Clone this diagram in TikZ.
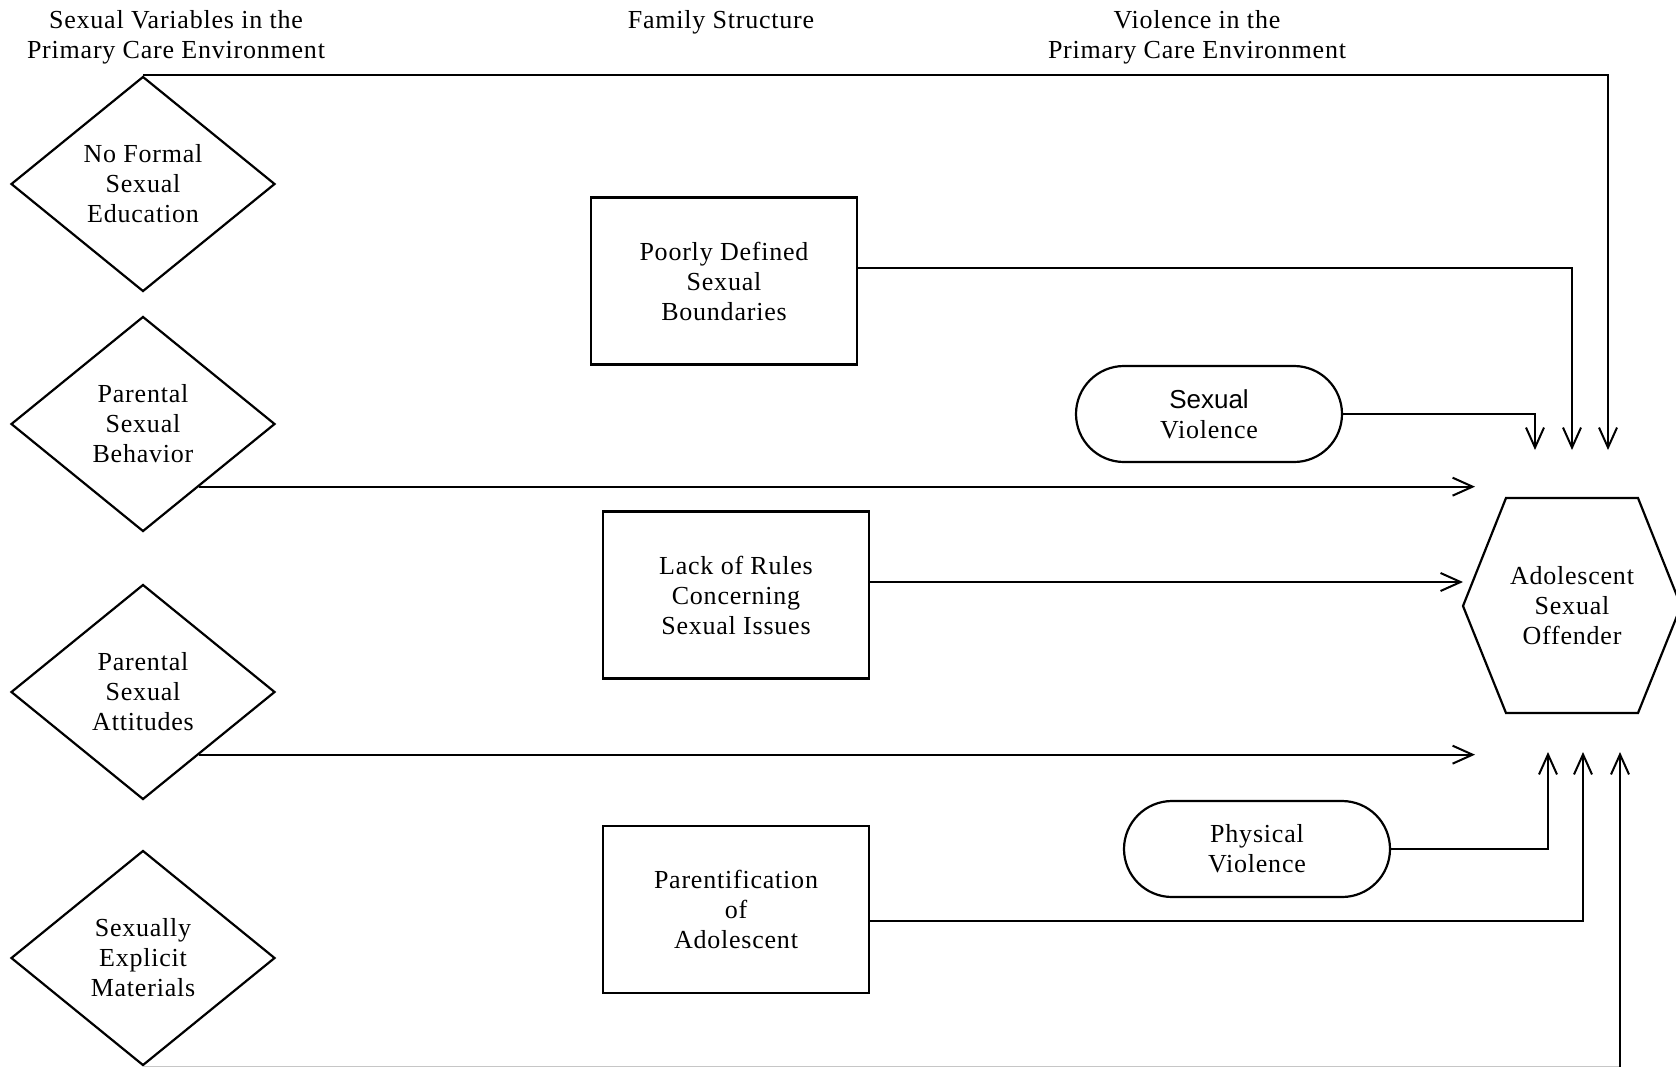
\documentclass[tikz,border=0pt]{standalone}
\usepackage{fontspec}
\setmainfont{Liberation Serif}[LetterSpace=3]
\newfontfamily\arialf{Liberation Sans}
\usetikzlibrary{shapes.geometric,shapes.misc,arrows.meta,calc}
\begin{document}
\begin{tikzpicture}[x=0.5pt,y=-0.5pt,
 every node/.style={font=\fontsize{13}{15}\selectfont, align=center, inner sep=0pt},
 dia/.style={draw, diamond, line width=1.1pt, minimum width=132pt, minimum height=107.5pt},
 boxr/.style={draw, rectangle, line width=1.1pt, minimum width=133pt, minimum height=83.5pt},
 pill/.style={draw, rounded rectangle, line width=1.1pt, minimum width=133pt, minimum height=48pt},
 conn/.style={line width=1pt, -{Straight Barb[length=10pt,width=9pt,line width=1pt]}},
]
\useasboundingbox (0,0) rectangle (1676,1066);
\node (h1) at (176,37) {Sexual Variables in the\\Primary Care Environment};
\node (h2) at (721,22) {Family Structure};
\node (h3) at (1197,37) {Violence in the\\Primary Care Environment};

\node[dia] (d1) at (143,184) {No Formal\\Sexual\\Education};
\node[dia] (d2) at (143,424) {Parental\\Sexual\\Behavior};
\node[dia] (d3) at (143,692) {Parental\\Sexual\\Attitudes};
\node[dia] (d4) at (143,958) {Sexually\\Explicit\\Materials};

\node[boxr] (r1) at (724,281) {Poorly Defined\\Sexual\\Boundaries};
\node[boxr] (r2) at (736,595) {Lack of Rules\\Concerning\\Sexual Issues};
\node[boxr] (r3) at (736,909.5) {Parentification\\of\\Adolescent};

\node[pill] (s1) at (1209,414) {{\arialf Sexual}\\Violence};
\node[pill] (s2) at (1257,849) {Physical\\Violence};

\node (hx) at (1572,606) {Adolescent\\Sexual\\Offender};
\draw[line width=1.1pt] ($(hx)+(-109,0)$) -- ($(hx)+(-66,-108)$) -- ($(hx)+(66,-108)$) -- ($(hx)+(109,0)$) -- ($(hx)+(66,107)$) -- ($(hx)+(-66,107)$) -- cycle;

\coordinate (t1) at (1535,450);
\coordinate (t2) at (1572,450);
\coordinate (t3) at (1608,450);
\coordinate (t4) at (1475,486);
\coordinate (t5) at (1463,582);
\coordinate (t6) at (1475,752);
\coordinate (b1) at (1548,752);
\coordinate (b2) at (1583,752);
\coordinate (b3) at (1620,752);

\coordinate (p2) at ($(d2.east)!0.577!(d2.south)$);
\coordinate (p3) at ($(d3.east)!0.577!(d3.south)$);
\coordinate (q1) at ([yshift=6.5pt]r1.east);
\coordinate (q2) at ([yshift=6.5pt]r2.east);
\coordinate (q3) at ([yshift=-5.75pt]r3.east);
\coordinate (c4) at (d4.south -| b3);

\draw[conn] (d1.north) -| (t3);
\draw[conn] (q1) -| (t2);
\draw[conn] (s1.east) -| (t1);
\draw[conn] (p2) -- (p2 -| t4);
\draw[conn] (q2) -- (q2 -| t5);
\draw[conn] (p3) -- (p3 -| t6);
\draw[conn] (s2.east) -| (b1);
\draw[conn] (q3) -| (b2);
\draw[gray!45, line width=0.6pt] (d4.south) -- (c4);
\draw[conn] (c4) -- (b3);
\end{tikzpicture}
\end{document}
